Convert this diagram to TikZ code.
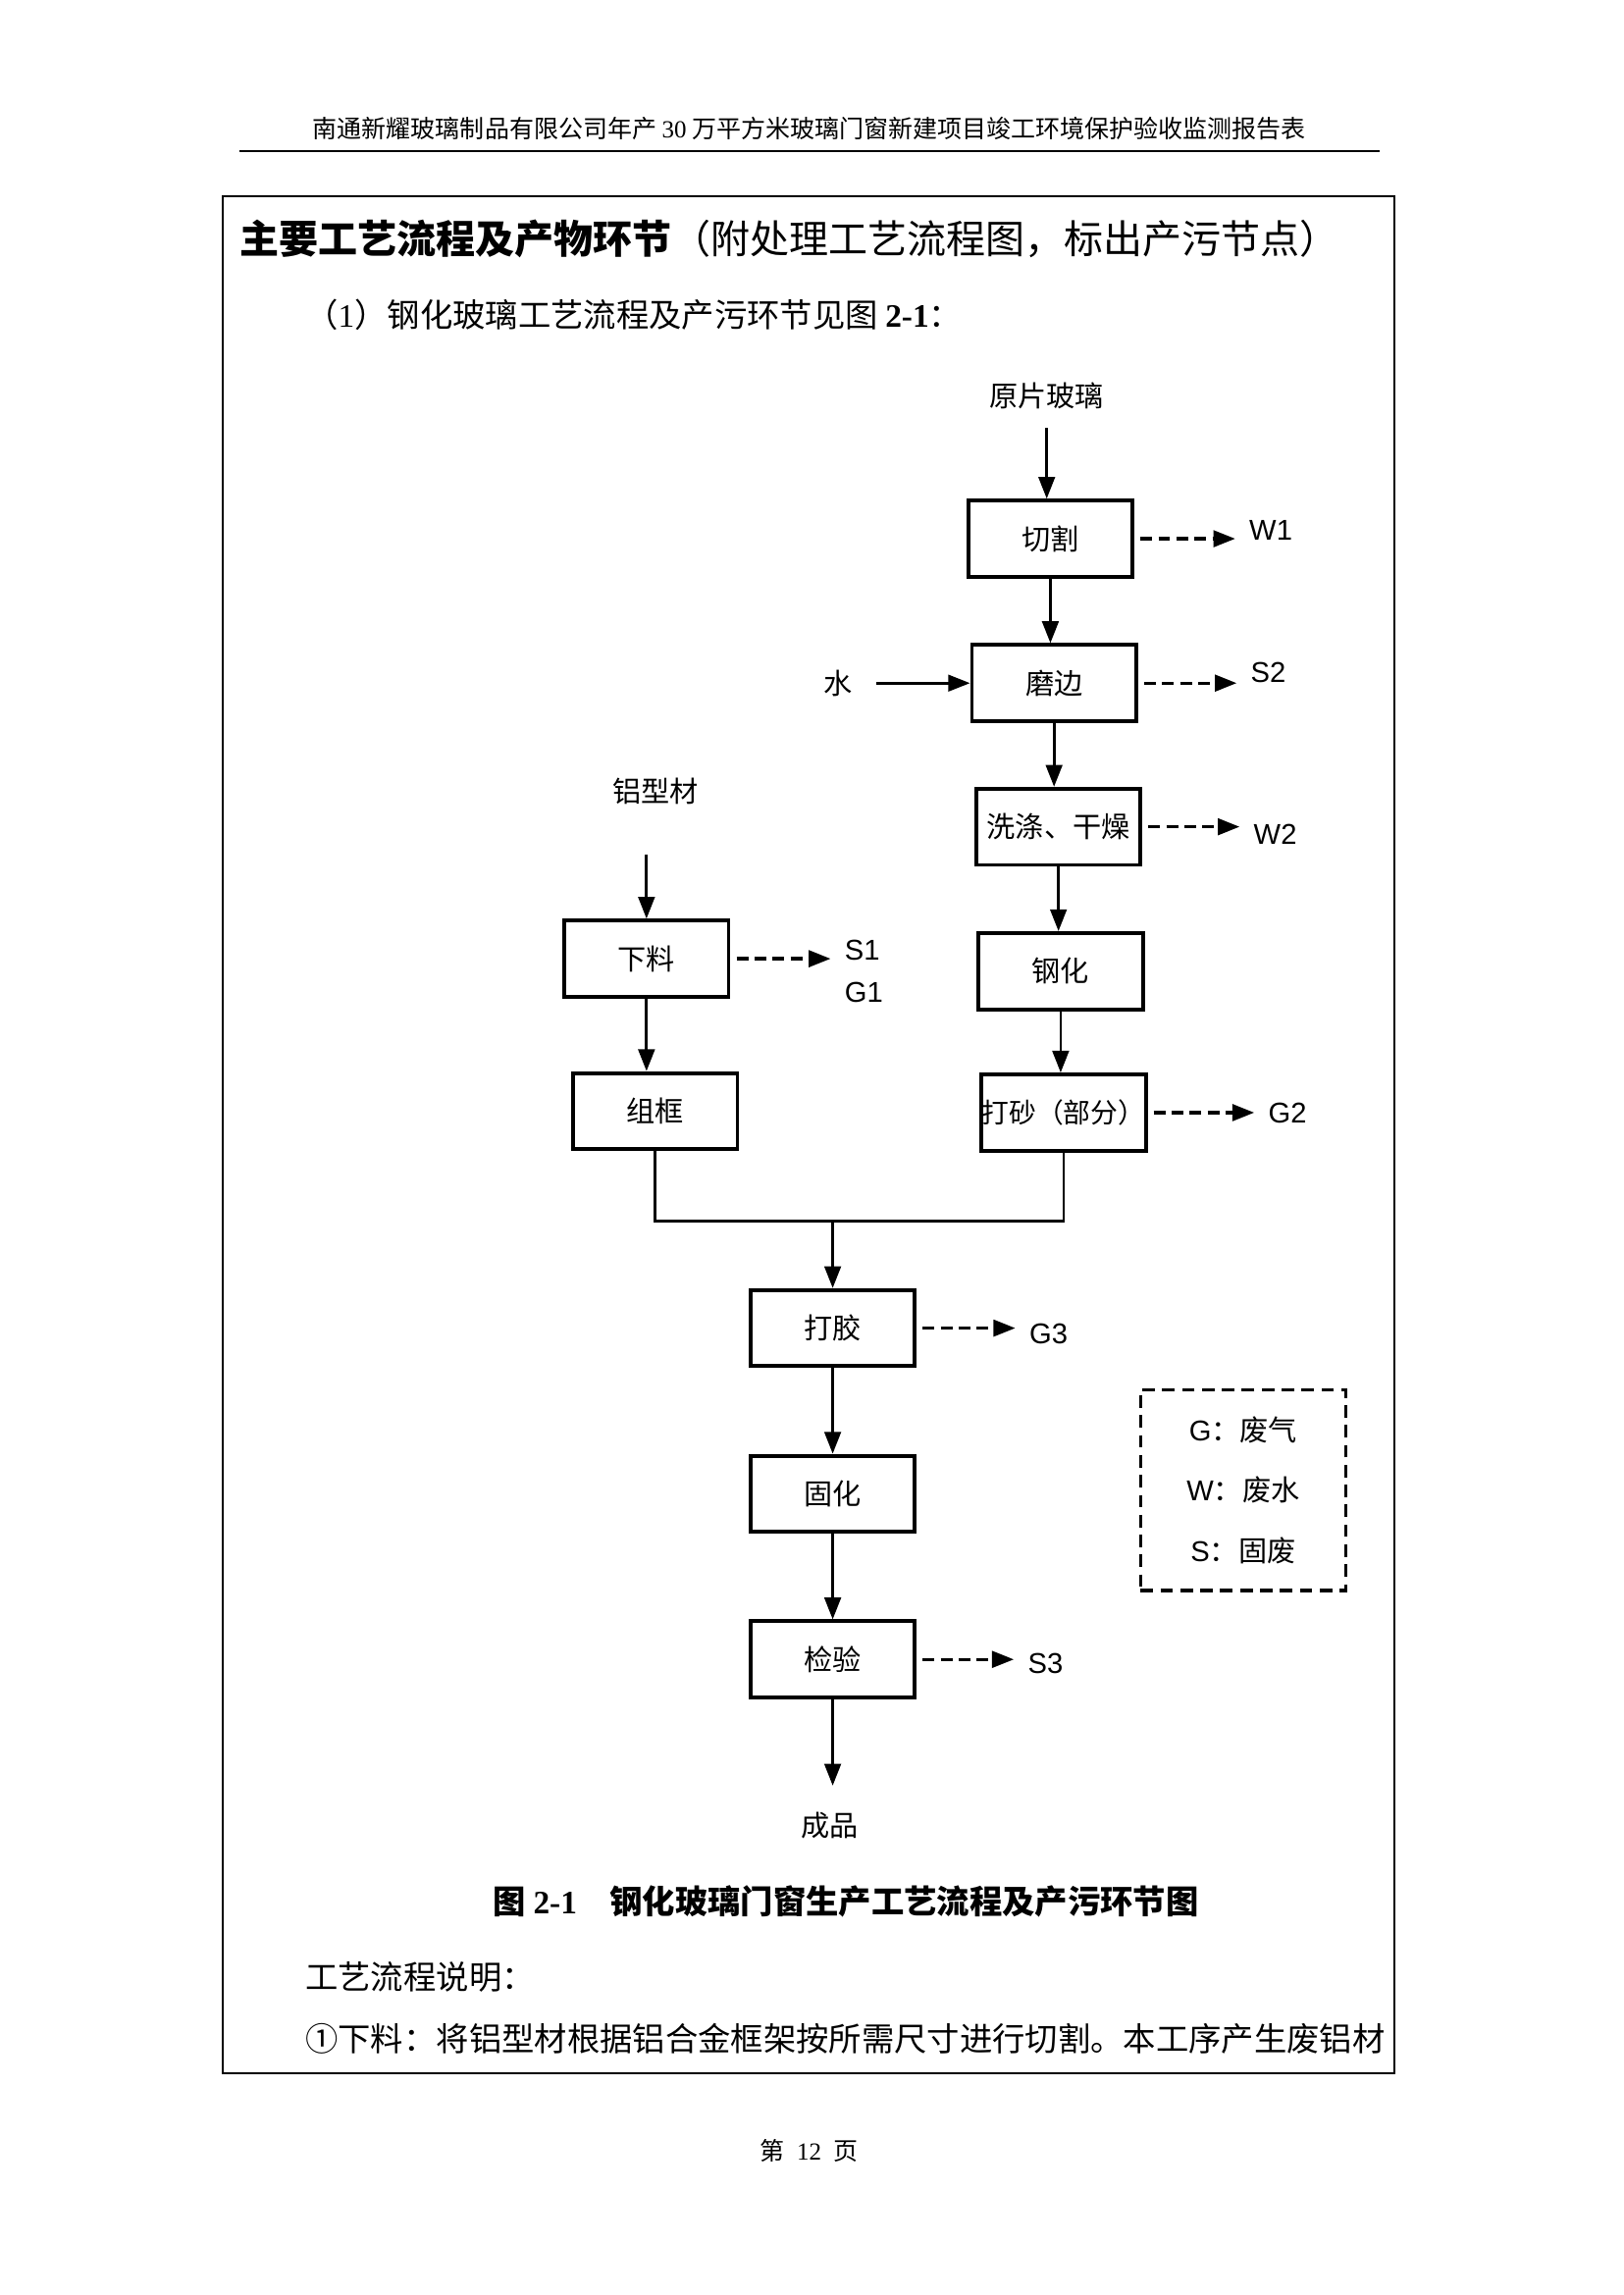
\documentclass[tikz,border=0pt]{standalone}
\usepackage{fontspec}
\setmainfont{Noto Sans CJK SC}
\newfontfamily\arialfont{Liberation Sans}
\newfontfamily\timesfont{Liberation Serif}
\usetikzlibrary{arrows.meta, calc, positioning}
\def\dpx{0.5377bp}
\tikzset{
    procbox/.style={draw, line width=1.4bp, minimum width=112*\dpx, minimum height=52*\dpx,
        inner sep=0pt, font=\fontsize{10.5bp}{12bp}\selectfont},
    flow/.style={-{Triangle[length=8bp,width=6bp]}, line width=1bp},
    emit/.style={flow, line width=1.2bp, dash pattern=on 4.3bp off 2.3bp, shorten <=2.2bp, shorten >=4bp},
    tag/.style={inner sep=1bp, font=\fontsize{10.5bp}{12bp}\selectfont},
    waste/.style={tag, anchor=west, font=\fontsize{10.5bp}{12bp}\selectfont\arialfont},
    legendbox/.style={draw, line width=1.2bp, dash pattern=on 4.6bp off 2.7bp,
        minimum width=140*\dpx, minimum height=137*\dpx, align=center,
        font=\fontsize{10.5bp}{22.2bp}\selectfont},
    prose/.style={anchor=west, inner sep=0pt, font=\fontsize{12bp}{14bp}\selectfont}
}
\begin{document}
\begin{tikzpicture}[x=\dpx, y=-\dpx]
    \useasboundingbox (0,0) rectangle (1107.2,1565.6);
    % page
    \node[inner sep=0pt, font=\fontsize{9bp}{11bp}\selectfont] (head) at (552,88)
        {南通新耀玻璃制品有限公司年产 {\timesfont 30} 万平方米玻璃门窗新建项目竣工环境保护验收监测报告表};
    \draw[line width=0.8bp] (163,103) -- (941,103);
    \draw[line width=0.7bp] (152,134) rectangle (951,1414);
    \node[prose, font=\fontsize{14.4bp}{16bp}\selectfont] (title) at (163,163)
        {{\bfseries 主要工艺流程及产物环节}（附处理工艺流程图，标出产污节点）};
    \node[prose] (intro) at (208,215) {（{\timesfont 1}）钢化玻璃工艺流程及产污环节见图 {\timesfont\bfseries 2-1}：};
    % glass line
    \node[tag] (raw) at (714,270) {原片玻璃};
    \node[procbox] (cut) at (716.5,367.5) {切割};
    \node[procbox] (grind) at (719,466) {磨边};
    \node[procbox] (wash) at (722,564) {洗涤、干燥};
    \node[procbox] (temper) at (723.5,662.5) {钢化};
    \node[procbox, font=\fontsize{10bp}{12bp}\selectfont] (sand) at (725.5,759) {打砂（部分）};
    \node[tag] (water) at (572,466) {水};
    % frame line
    \node[tag] (alu) at (447,540) {铝型材};
    \node[procbox] (blank) at (441,654) {下料};
    \node[procbox] (frame) at (447,758) {组框};
    % assembly
    \coordinate (join) at (568,833);
    \node[procbox] (glue) at (568,906) {打胶};
    \node[procbox] (cure) at (568,1019) {固化};
    \node[procbox] (check) at (568,1132) {检验};
    \node[tag] (prod) at (566,1245) {成品};
    % emissions
    \node[waste] (w1) at (850,362) {W1};
    \node[waste] (s2) at (851,459) {S2};
    \node[waste] (w2) at (853,569) {W2};
    \node[waste] (g2) at (863,759) {G2};
    \node[waste] (s1) at (574,648) {S1};
    \node[waste] (g1) at (574,677) {G1};
    \node[waste] (g3) at (700,910) {G3};
    \node[waste] (s3) at (699,1135) {S3};
    \node[legendbox] (legend) at (848,1016.5)
        {{\arialfont G}：废气\\{\arialfont W}：废水\\{\arialfont S}：固废};
    % connectors
    \draw[flow, shorten <=5.7bp] (raw) -- (raw |- cut.north);
    \draw[flow, shorten <=7.3bp] (water) -- (grind.west);
    \draw[flow, shorten <=17bp] (alu.south -| blank.north) -- (blank.north);
    \foreach \a/\b in {cut/grind, grind/wash, wash/temper, temper/sand, blank/frame, glue/cure, cure/check}
        \draw[flow] (\a.south) -- (\a.south |- \b.north);
    \draw[line width=1bp] (frame.south) |- (join) -| (sand.south);
    \draw[flow] (join) -- (glue.north);
    \draw[flow, shorten >=8.4bp] (check.south) -- (check.south |- prod.north);
    \draw[emit] (cut.east) -- (cut.east -| w1.west);
    \draw[emit] (grind.east) -- (grind.east -| s2.west);
    \draw[emit] (wash.east) -- (wash.east -| w2.west);
    \draw[emit] (sand.east) -- (sand.east -| g2.west);
    \draw[emit] (blank.east) -- (blank.east -| s1.west);
    \draw[emit] (glue.east) -- (glue.east -| g3.west);
    \draw[emit] (check.east) -- (check.east -| s3.west);
    % caption and notes
    \node[inner sep=0pt, font=\fontsize{12bp}{14bp}\selectfont\bfseries] (caption) at (577,1297)
        {图 {\timesfont 2-1}　钢化玻璃门窗生产工艺流程及产污环节图};
    \node[prose] (note) at (208,1349) {工艺流程说明：};
    \node[prose] (step1) at (208,1391) {①下料：将铝型材根据铝合金框架按所需尺寸进行切割。本工序产生废铝材};
    \node[inner sep=0pt, font=\fontsize{9bp}{11bp}\selectfont] (foot) at (552,1467)
        {第\hspace{0.5em}{\timesfont 12}\hspace{0.5em}页};
\end{tikzpicture}
\end{document}
